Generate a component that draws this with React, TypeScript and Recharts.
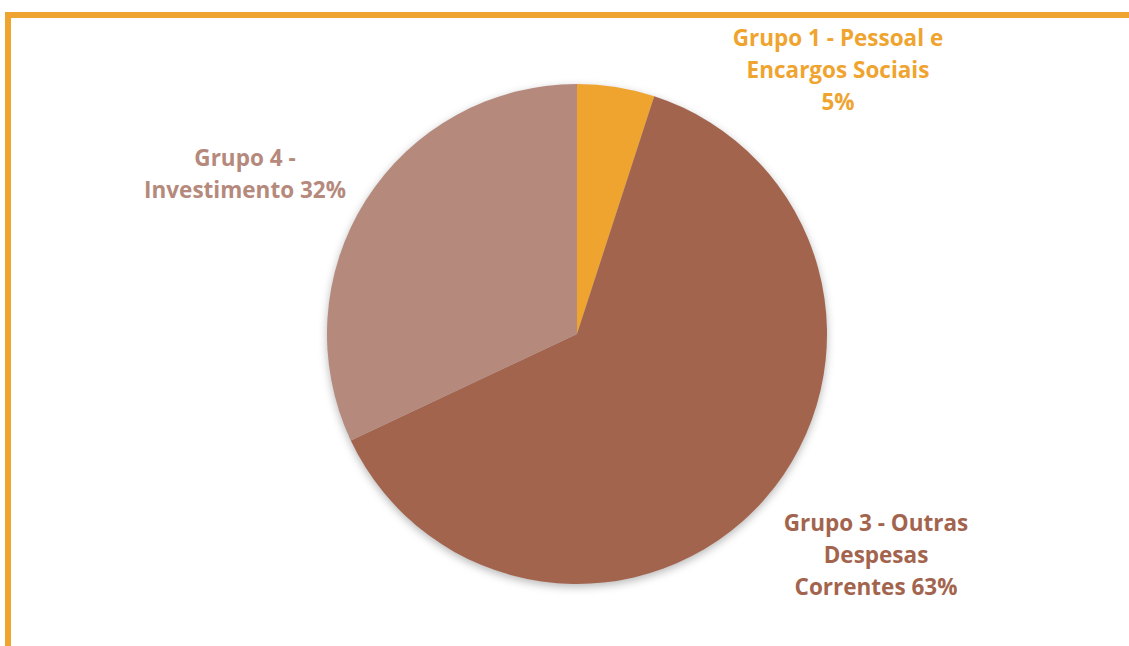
import React from "react";
import { PieChart, Pie, Cell } from "recharts";

const categories = [
  "Grupo 1 - Pessoal e Encargos Sociais",
  "Grupo 3 - Outras Despesas Correntes",
  "Grupo 4 - Investimento",
];
const values = [5, 63, 32];
const labelLines = [
  ["Grupo 1 - Pessoal e", "Encargos Sociais", "5%"],
  ["Grupo 3 - Outras", "Despesas", "Correntes 63%"],
  ["Grupo 4 -", "Investimento 32%"],
];
const colors = ["#F0A430", "#A3644E", "#B5897C"];
// label centre offsets from the pie centre (layout only)
const labelOffsets = [
  [261, -265],
  [299, 220],
  [-332, -161],
];

const data = categories.map((name, i) => ({ name, value: values[i] }));

const FONT = "'Open Sans', Lato, sans-serif";

const renderLabel = (props: any) => {
  const { cx, cy, index } = props;
  const lines = labelLines[index];
  const [dx, dy] = labelOffsets[index];
  const lh = 32;
  const x = cx + dx;
  const y0 = cy + dy - ((lines.length - 1) * lh) / 2;
  return (
    <text
      key={`lbl-${index}`}
      x={x}
      y={y0}
      textAnchor="middle"
      dominantBaseline="central"
      fill={colors[index]}
      fontFamily={FONT}
      fontWeight={700}
      fontSize={22.5}
    >
      {lines.map((l, j) => (
        <tspan key={j} x={x} y={y0 + j * lh} dominantBaseline="central">
          {l}
        </tspan>
      ))}
    </text>
  );
};

const margin = { top: 0, right: 0, bottom: 0, left: 0 };

export default function App() {
  return (
    <div style={{ position: "fixed", left: 0, top: 0, width: 1129, height: 646, background: "#fff" }}>
      <div
        style={{
          position: "absolute",
          left: 5,
          top: 12,
          width: 1124,
          height: 634,
          borderTop: "6px solid #F0A430",
          borderLeft: "6px solid #F0A430",
          boxSizing: "border-box",
        }}
      />
      <div style={{ position: "absolute", left: 0, top: 0 }}>
        <PieChart width={1129} height={646} margin={margin}>
          <defs>
            <filter id="pieShadow" x="-20%" y="-20%" width="140%" height="140%">
              <feGaussianBlur stdDeviation="4" />
            </filter>
          </defs>
          <Pie
            data={data}
            dataKey="value"
            cx={577}
            cy={337}
            outerRadius={250}
            startAngle={90}
            endAngle={-270}
            isAnimationActive={false}
            stroke="none"
            label={false}
            labelLine={false}
          >
            {data.map((d, i) => (
              <Cell key={`s-${i}`} fill="rgba(0,0,0,0.28)" filter="url(#pieShadow)" />
            ))}
          </Pie>
          <Pie
            data={data}
            dataKey="value"
            cx={577}
            cy={334}
            outerRadius={250}
            startAngle={90}
            endAngle={-270}
            isAnimationActive={false}
            stroke="none"
            label={renderLabel}
            labelLine={false}
          >
            {data.map((d, i) => (
              <Cell key={`c-${i}`} fill={colors[i]} />
            ))}
          </Pie>
        </PieChart>
      </div>
    </div>
  );
}
